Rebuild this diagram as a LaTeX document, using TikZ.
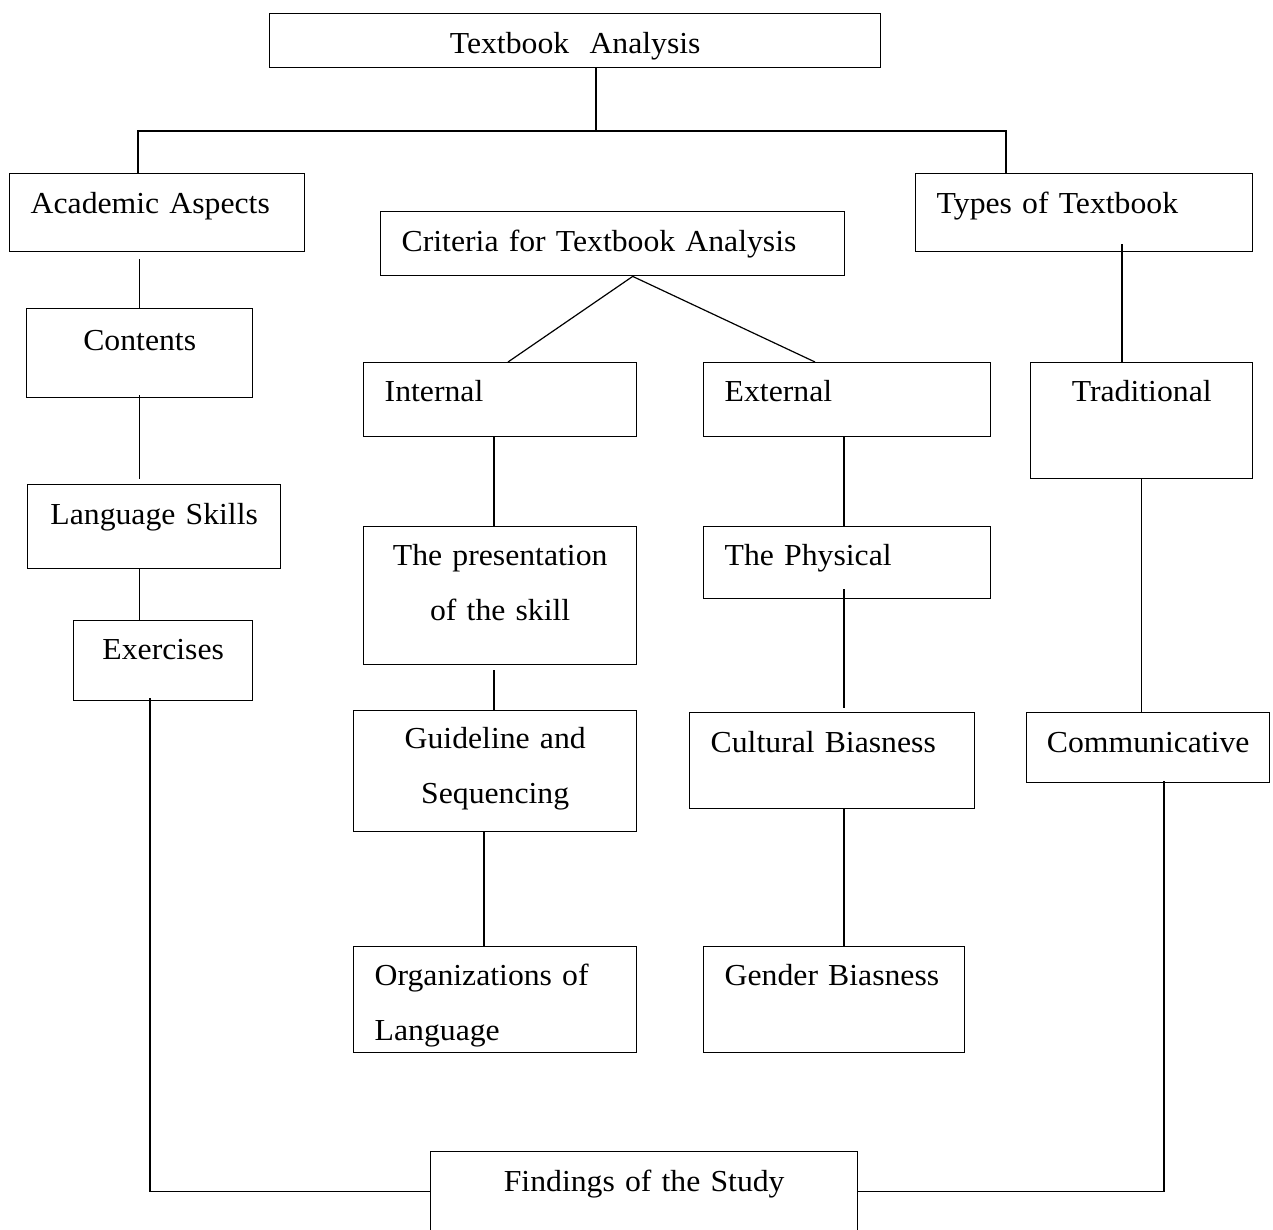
\documentclass[tikz,border=0pt]{standalone}
\usepackage{fontspec}
\setmainfont{Liberation Serif}[FakeStretch=1.04]
\usetikzlibrary{positioning,calc}

\begin{document}
\begin{tikzpicture}[x=1pt, y=-1pt,
    box/.style={draw, line width=1.4pt, inner sep=0pt, anchor=north west,
        font=\fontsize{30.5}{55}\selectfont},
    mid/.style={box, align=center},
    lft/.style={box, align=left, inner xsep=21pt},
    link/.style={line width=1.2pt}
]
\useasboundingbox (0,0) rectangle (1273,1230);

% Boxes
\node[mid, text width=611pt, text height=40pt, text depth=14pt] (ta) at (269,13) {Textbook\ \ Analysis};
\node[lft, text width=253pt, text height=40pt, text depth=38pt] (acad) at (9,173) {Academic Aspects};
\node[lft, text width=295pt, text height=40pt, text depth=38pt] (types) at (915,173) {Types of Textbook};
\node[lft, text width=422pt, text height=40pt, text depth=24pt] (crit) at (380,211) {Criteria for Textbook Analysis};

\node[mid, text width=226pt, text height=42pt, text depth=47pt] (cont) at (26,308) {Contents};
\node[mid, text width=253pt, text height=40pt, text depth=44pt] (lang) at (27,484) {Language Skills};
\node[mid, text width=179pt, text height=39pt, text depth=41pt] (exer) at (73,620) {Exercises};

\node[lft, text width=231pt, text height=39pt, text depth=35pt] (int) at (363,362) {Internal};
\node[mid, text width=273pt, text height=39pt, text depth=99pt] (pres) at (363,526) {The presentation\\of the skill};
\node[mid, text width=283pt, text height=38pt, text depth=83pt] (guide) at (353,710) {Guideline and\\Sequencing};
\node[lft, text width=241pt, text height=39pt, text depth=67pt] (org) at (353,946) {Organizations of\\Language};

\node[lft, text width=245pt, text height=39pt, text depth=35pt] (ext) at (703,362) {External};
\node[lft, text width=245pt, text height=39pt, text depth=33pt] (phys) at (703,526) {The Physical};
\node[lft, text width=243pt, text height=40pt, text depth=56pt] (cult) at (689,712) {Cultural Biasness};
\node[lft, text width=219pt, text height=39pt, text depth=67pt] (gend) at (703,946) {Gender Biasness};

\node[mid, text width=222pt, text height=39pt, text depth=77pt] (trad) at (1030,362) {Traditional};
\node[mid, text width=243pt, text height=40pt, text depth=30pt] (comm) at (1026,712) {Communicative};

\node[mid, text width=427pt, text height=40pt, text depth=40pt] (find) at (430,1151) {Findings of the Study};

% Links
\coordinate (bus) at (596,131);
\draw[link] (ta.south -| bus) -- (bus);
\draw[link] (acad.north -| 138,0) |- (bus) -| (types.north -| 1006,0);

\draw[link] ([yshift=-7pt]acad.south -| cont.north) -- (cont.north);
\draw[link] ([yshift=3pt]cont.south) -- ([yshift=5pt]lang.north -| cont.south);
\draw[link] (lang.south -| cont.south) -- (exer.north -| cont.south);
\draw[link] ([yshift=3pt]exer.south -| 150,0) |- (find.west);

\draw[link] (int.north -| 508,0) -- ([xshift=20pt]crit.south) -- (ext.north -| 815,0);
\draw[link] (int.south -| 494,0) -- (pres.north -| 494,0);
\draw[link] ([yshift=-5pt]pres.south -| 494,0) -- (guide.north -| 494,0);
\draw[link] (guide.south -| 484,0) -- (org.north -| 484,0);

\draw[link] (ext.south -| 844,0) -- (phys.north -| 844,0);
\draw[link] ([yshift=10pt]phys.south -| 844,0) -- ([yshift=4pt]cult.north -| 844,0);
\draw[link] (cult.south -| 844,0) -- (gend.north -| 844,0);

\draw[link] ([yshift=8pt]types.south -| 1122,0) -- (trad.north -| 1122,0);
\draw[link] (trad.south) -- (comm.north -| trad.south);
\draw[link] ([yshift=2pt]comm.south -| 1164,0) |- (find.east);

\end{tikzpicture}
\end{document}
